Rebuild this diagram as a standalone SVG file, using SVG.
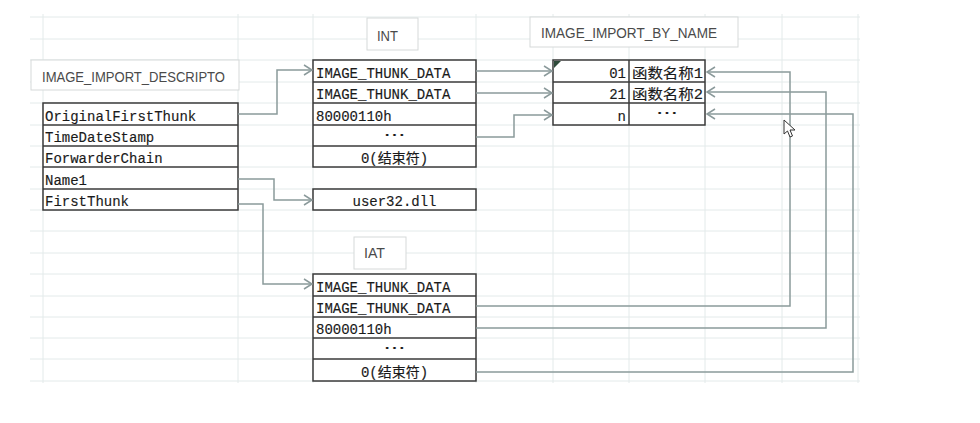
<svg xmlns="http://www.w3.org/2000/svg" width="980" height="423" viewBox="0 0 980 423">
<defs>
<style>
.grid line{stroke:#e3eaea;stroke-width:1}
.lbl rect{fill:#fff;stroke:#d6d9d9;stroke-width:1}
.lbl text{font-family:"Liberation Sans","Noto Sans",sans-serif;font-size:15px;fill:#4a4a4a}
.tbl rect,.tbl line{fill:#fff;stroke:#3a3a3a;stroke-width:1.5}
.tbl line{fill:none}
.t{font-family:"Liberation Mono","Noto Sans CJK SC",monospace;font-size:14px;fill:#1a1a1a;stroke:#1a1a1a;stroke-width:0.15}
.cjk{font-family:"Noto Sans CJK SC","Liberation Mono",sans-serif;font-size:15px;fill:#1a1a1a}
.c{text-anchor:middle}
.r{text-anchor:end}
.conn path{fill:none;stroke:#8b9a9b;stroke-width:1.5;marker-end:url(#arr)}
</style>
<marker id="arr" markerUnits="userSpaceOnUse" viewBox="0 0 10 12" refX="9" refY="6" markerWidth="10" markerHeight="12" orient="auto">
<path d="M1,1 L9,6 L1,11" fill="none" stroke="#8b9a9b" stroke-width="1.5"/>
</marker>
</defs>
<rect width="980" height="423" fill="#fff"/>
<g class="grid">
<line x1="30" y1="17" x2="860" y2="17"/><line x1="30" y1="39" x2="860" y2="39"/><line x1="30" y1="60" x2="860" y2="60"/><line x1="30" y1="82" x2="860" y2="82"/><line x1="30" y1="103" x2="860" y2="103"/><line x1="30" y1="125" x2="860" y2="125"/><line x1="30" y1="146" x2="860" y2="146"/><line x1="30" y1="167" x2="860" y2="167"/><line x1="30" y1="189" x2="860" y2="189"/><line x1="30" y1="210" x2="860" y2="210"/><line x1="30" y1="231" x2="860" y2="231"/><line x1="30" y1="253" x2="860" y2="253"/><line x1="30" y1="274" x2="860" y2="274"/><line x1="30" y1="296" x2="860" y2="296"/><line x1="30" y1="317" x2="860" y2="317"/><line x1="30" y1="338" x2="860" y2="338"/><line x1="30" y1="359" x2="860" y2="359"/><line x1="30" y1="381" x2="860" y2="381"/>
<line x1="43" y1="14" x2="43" y2="383"/><line x1="238" y1="14" x2="238" y2="383"/><line x1="313" y1="14" x2="313" y2="383"/><line x1="476" y1="14" x2="476" y2="383"/><line x1="553" y1="14" x2="553" y2="383"/><line x1="629" y1="14" x2="629" y2="383"/><line x1="705" y1="14" x2="705" y2="383"/><line x1="782" y1="14" x2="782" y2="383"/><line x1="858" y1="14" x2="858" y2="383"/>
</g>
<g id="label-descriptor" class="lbl"><rect x="31" y="60" width="208" height="30"/><text x="42" y="82" textLength="183" lengthAdjust="spacingAndGlyphs">IMAGE_IMPORT_DESCRIPTO</text></g>
<g id="label-int" class="lbl"><rect x="367" y="18" width="51" height="32"/><text x="377" y="41" textLength="21" lengthAdjust="spacingAndGlyphs">INT</text></g>
<g id="label-byname" class="lbl"><rect x="530" y="17" width="208" height="30"/><text x="541" y="38" textLength="176" lengthAdjust="spacingAndGlyphs">IMAGE_IMPORT_BY_NAME</text></g>
<g id="label-iat" class="lbl"><rect x="354" y="237" width="52" height="32"/><text x="364" y="258" textLength="21" lengthAdjust="spacingAndGlyphs">IAT</text></g>
<g id="descriptor" class="tbl">
<rect x="43" y="103" width="195" height="107"/>
<line x1="43" y1="125" x2="238" y2="125"/><line x1="43" y1="146" x2="238" y2="146"/><line x1="43" y1="167" x2="238" y2="167"/><line x1="43" y1="189" x2="238" y2="189"/>
<text class="t" x="45" y="121">OriginalFirstThunk</text>
<text class="t" x="45" y="142">TimeDateStamp</text>
<text class="t" x="45" y="163">ForwarderChain</text>
<text class="t" x="45" y="185">Name1</text>
<text class="t" x="45" y="206">FirstThunk</text>
</g>
<g id="int" class="tbl">
<rect x="313" y="60" width="163" height="107"/>
<line x1="313" y1="82" x2="476" y2="82"/><line x1="313" y1="103" x2="476" y2="103"/><line x1="313" y1="125" x2="476" y2="125"/><line x1="313" y1="146" x2="476" y2="146"/>
<text class="t" x="316" y="78">IMAGE_THUNK_DATA</text>
<text class="t" x="316" y="99">IMAGE_THUNK_DATA</text>
<text class="t" x="316" y="121">80000110h</text>
<text class="cjk c" x="394.5" y="141" textLength="22" lengthAdjust="spacingAndGlyphs">…</text>
<text class="t c" x="394.5" y="163">0(结束符)</text>
</g>
<g id="dllname" class="tbl">
<rect x="313" y="189" width="163" height="21"/>
<text class="t c" x="394.5" y="206">user32.dll</text>
</g>
<g id="iat" class="tbl">
<rect x="313" y="274" width="163" height="107"/>
<line x1="313" y1="296" x2="476" y2="296"/><line x1="313" y1="317" x2="476" y2="317"/><line x1="313" y1="338" x2="476" y2="338"/><line x1="313" y1="359" x2="476" y2="359"/>
<text class="t" x="316" y="292">IMAGE_THUNK_DATA</text>
<text class="t" x="316" y="313">IMAGE_THUNK_DATA</text>
<text class="t" x="316" y="334">80000110h</text>
<text class="cjk c" x="394.5" y="354" textLength="22" lengthAdjust="spacingAndGlyphs">…</text>
<text class="t c" x="394.5" y="377">0(结束符)</text>
</g>
<g id="byname" class="tbl">
<rect x="553" y="60" width="152" height="65"/>
<line x1="553" y1="82" x2="705" y2="82"/><line x1="553" y1="103" x2="705" y2="103"/><line x1="629" y1="60" x2="629" y2="125"/>
<polygon points="554,61 561,61 554,68" fill="#2f4a3a" stroke="none"/>
<text class="t r" x="626" y="78">01</text>
<text class="t r" x="626" y="99">21</text>
<text class="t r" x="626" y="121">n</text>
<text class="t" x="632" y="78" textLength="71" lengthAdjust="spacingAndGlyphs">函数名称1</text>
<text class="t" x="632" y="99" textLength="71" lengthAdjust="spacingAndGlyphs">函数名称2</text>
<text class="cjk c" x="667" y="119" textLength="22" lengthAdjust="spacingAndGlyphs">…</text>
</g>
<g id="connectors" class="conn">
<path d="M238,114 H277 V70 H312"/>
<path d="M238,179 H274 V200 H312"/>
<path d="M238,204 H263 V284 H312"/>
<path d="M476,71 H552"/>
<path d="M476,93 H552"/>
<path d="M476,137 H514 V115 H552"/>
<path d="M476,306 H790 V72 H707"/>
<path d="M476,328 H826 V92 H707"/>
<path d="M476,372 H853 V114 H707"/>
</g>
<polygon points="784,120 784,134 787.5,131 790,137 792.5,136 790,130 795,130" fill="#fff" stroke="#333" stroke-width="1"/>
</svg>
